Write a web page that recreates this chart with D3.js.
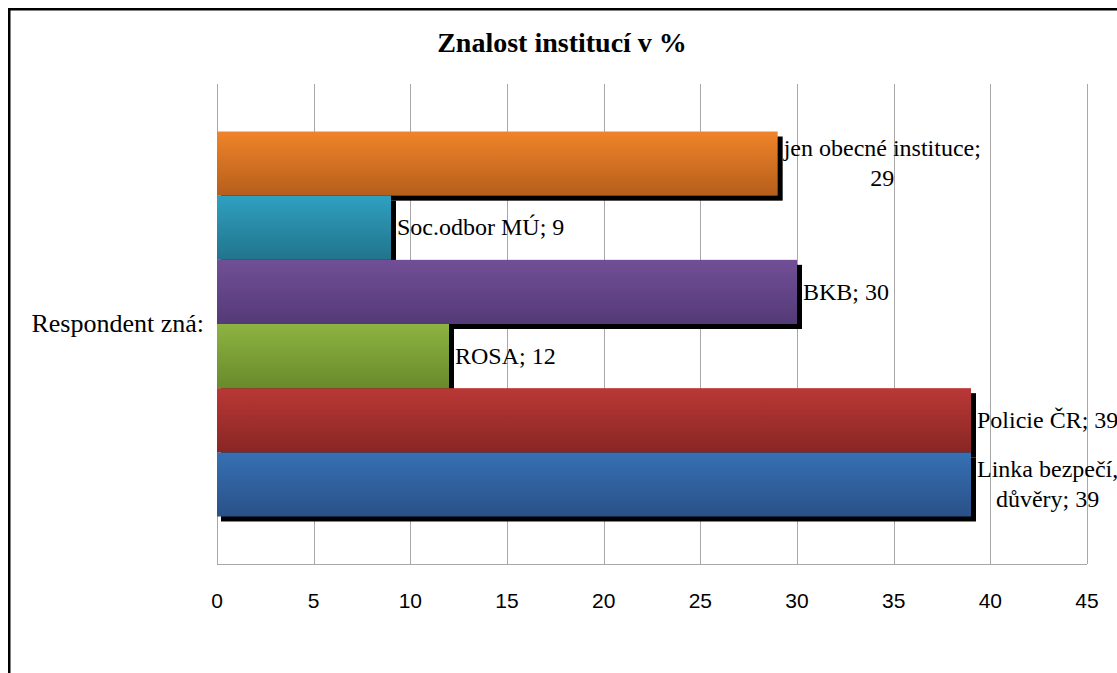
<!DOCTYPE html>
<html>
<head>
<meta charset="utf-8">
<script src="https://cdn.jsdelivr.net/npm/d3@7"></script>
<style>
	body { margin: 0; background: #fff; }
	svg { display: block; }
	.title { font-family: "Liberation Serif", "Times New Roman", serif; font-weight: bold; font-size: 28px; }
	.label { font-family: "Liberation Serif", "Times New Roman", serif; font-size: 24px; fill: #000; }
	.cat-label { font-size: 26px; }
	.tick-label { font-family: "Liberation Sans", Arial, sans-serif; font-size: 21px; fill: #000; }
</style>
</head>
<body>
<div class="view-container"></div>
<script>
'use strict';

// data (series listed bottom to top, as in the source chart)
var categories = ['Respondent zná:'];
var seriesNames = ['Linka bezpečí, důvěry', 'Policie ČR', 'ROSA', 'BKB', 'Soc.odbor MÚ', 'jen obecné instituce'];
var seriesValues = [39, 39, 12, 30, 9, 29];
var tickValues = [0, 5, 10, 15, 20, 25, 30, 35, 40, 45];

// top / bottom colour of each bar's gradient
var GRADIENTS = [
	['#3671b4', '#2a5088'],
	['#ba3836', '#882624'],
	['#8db341', '#698a2c'],
	['#714f97', '#543a77'],
	['#2fa0c1', '#21748b'],
	['#f0842a', '#b55e1b']
];
var GRID = '#a8a8a8';
var WIDTH = 1117, HEIGHT = 673;
var plot = { left: 217, right: 1087, top: 84, bottom: 564 };

var svg = d3.select('.view-container').append('svg')
	.attr('width', WIDTH)
	.attr('height', HEIGHT);

// chart frame, runs out past the right and bottom edges
svg.append('rect')
	.attr('x', 9.25).attr('y', 9.25)
	.attr('width', WIDTH + 20).attr('height', HEIGHT + 20)
	.style('fill', 'none').style('stroke', '#000').style('stroke-width', 2.5);

svg.append('text')
	.attr('class', 'title')
	.attr('x', 562).attr('y', 52)
	.attr('text-anchor', 'middle')
	.text('Znalost institucí v %');

var defs = svg.append('defs');
GRADIENTS.forEach(function(g, i) {
	var grad = defs.append('linearGradient')
		.attr('id', 'grad' + i)
		.attr('x1', 0).attr('y1', 0).attr('x2', 0).attr('y2', 1);
	grad.append('stop').attr('offset', '0%').attr('stop-color', g[0]);
	grad.append('stop').attr('offset', '100%').attr('stop-color', g[1]);
});

var x = d3.scaleLinear().domain([0, 45]).range([plot.left, plot.right]);
var y0 = d3.scaleBand().domain(categories).range([plot.top, plot.bottom])
	.paddingInner(0).paddingOuter(0.1234);
// first series sits at the bottom of the group
var y1 = d3.scaleBand().domain(d3.range(seriesNames.length).reverse())
	.range([0, y0.bandwidth()]).padding(0);

// vertical gridlines
svg.append('g').selectAll('line')
	.data(tickValues)
	.enter().append('line')
	.attr('x1', function(d) { return Math.round(x(d)) + 0.5; })
	.attr('x2', function(d) { return Math.round(x(d)) + 0.5; })
	.attr('y1', plot.top).attr('y2', plot.bottom)
	.style('stroke', GRID).style('stroke-width', 1);

// bottom axis line
svg.append('line')
	.attr('x1', plot.left).attr('x2', plot.right)
	.attr('y1', plot.bottom + 0.5).attr('y2', plot.bottom + 0.5)
	.style('stroke', GRID);

// tick labels
svg.append('g').selectAll('text')
	.data(tickValues)
	.enter().append('text')
	.attr('class', 'tick-label')
	.attr('x', function(d) { return x(d); })
	.attr('y', 608)
	.attr('text-anchor', 'middle')
	.text(function(d) { return d; });

// category label
svg.selectAll('.cat-label')
	.data(categories)
	.enter().append('text')
	.attr('class', 'label cat-label')
	.attr('x', 204)
	.attr('y', function(d) { return y0(d) + y0.bandwidth() / 2; })
	.attr('dy', '0.32em')
	.attr('text-anchor', 'end')
	.text(function(d) { return d; });

var bars = seriesValues.map(function(v, i) {
	return {
		i: i,
		name: seriesNames[i],
		value: v,
		y: y0(categories[0]) + y1(i)
	};
});

// shadows first, then the bars above them
svg.append('g').selectAll('rect')
	.data(bars)
	.enter().append('rect')
	.attr('x', function(d) { return x(0) + 4; })
	.attr('y', function(d) { return d.y + 5; })
	.attr('width', function(d) { return x(d.value) - x(0) + 1; })
	.attr('height', y1.bandwidth())
	.style('fill', '#000');

svg.append('g').selectAll('rect')
	.data(bars)
	.enter().append('rect')
	.attr('x', x(0))
	.attr('y', function(d) { return d.y; })
	.attr('width', function(d) { return x(d.value) - x(0); })
	.attr('height', y1.bandwidth())
	.style('fill', function(d) { return 'url(#grad' + d.i + ')'; });

// data labels, wrapped like the source does
var measure = svg.append('text').attr('class', 'label').style('visibility', 'hidden');
function textWidth(s) {
	measure.text(s);
	return measure.node().getComputedTextLength();
}
function wrap(s, maxWidth) {
	var words = s.split(' ');
	var lines = [];
	var line = words[0];
	for (var k = 1; k < words.length; k++) {
		var next = line + ' ' + words[k];
		if (textWidth(next) > maxWidth) {
			lines.push(line);
			line = words[k];
		} else {
			line = next;
		}
	}
	lines.push(line);
	return lines;
}

var LINE_HEIGHT = 30;
bars.forEach(function(d) {
	var lines = wrap(d.name + '; ' + d.value, 215);
	var widest = d3.max(lines, textWidth);
	var cx = x(d.value) + 6 + widest / 2;
	var cy = d.y + y1.bandwidth() / 2;
	var t = svg.append('text')
		.attr('class', 'label')
		.attr('text-anchor', 'middle');
	lines.forEach(function(l, k) {
		t.append('tspan')
			.attr('x', cx)
			.attr('y', cy + (k - (lines.length - 1) / 2) * LINE_HEIGHT)
			.attr('dy', '0.32em')
			.text(l);
	});
});
measure.remove();
</script>
</body>
</html>
